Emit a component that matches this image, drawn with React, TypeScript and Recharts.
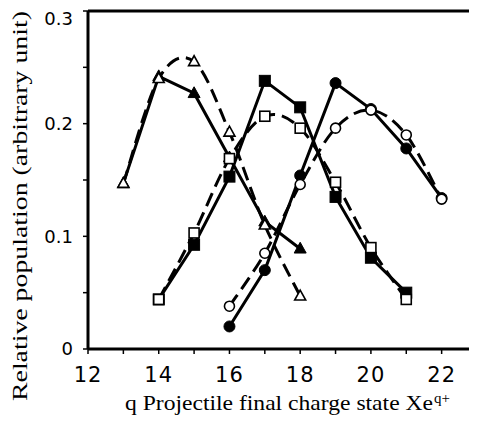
import React from "react";
import { LineChart, Line, XAxis, YAxis, ReferenceLine } from "recharts";

// Projectile final charge state q
const qValues = [13, 14, 15, 16, 17, 18, 19, 20, 21, 22];

// Relative population (arbitrary unit); null = no point
const filledTriangle = [0.147, 0.242, 0.227, 0.17, 0.113, 0.089, null, null, null, null];
const openTriangle = [0.147, 0.24, 0.255, 0.1925, 0.11, 0.047, null, null, null, null];
const filledSquare = [null, 0.044, 0.0925, 0.153, 0.238, 0.2145, 0.135, 0.081, 0.05, null];
const openSquare = [null, 0.044, 0.103, 0.169, 0.2066, 0.196, 0.148, 0.09, 0.044, null];
const filledCircle = [null, null, null, 0.02, 0.07, 0.154, 0.236, 0.213, 0.178, 0.134];
const openCircle = [null, null, null, 0.038, 0.085, 0.146, 0.196, 0.212, 0.19, 0.133];

const xTicks = [12, 13, 14, 15, 16, 17, 18, 19, 20, 21, 22, 23];
const xTickLabels = ["12", "", "14", "", "16", "", "18", "", "20", "", "22", ""];
const yTicks = [0, 0.05, 0.1, 0.15, 0.2, 0.25, 0.3];
const yTickLabels = ["0", "", "0.1", "", "0.2", "", "0.3"];

const data = qValues.map((q, i) => ({
  q,
  ft: filledTriangle[i],
  ot: openTriangle[i],
  fs: filledSquare[i],
  os: openSquare[i],
  fc: filledCircle[i],
  oc: openCircle[i],
}));

// smooth curve passing through points (Excel-like smoothing)
const smoothCurve: any = (context: any) => {
  let pts: number[][] = [];
  return {
    areaStart() {},
    areaEnd() {},
    lineStart() {
      pts = [];
    },
    point(x: number, y: number) {
      pts.push([+x, +y]);
    },
    lineEnd() {
      if (!pts.length) return;
      context.moveTo(pts[0][0], pts[0][1]);
      for (let i = 0; i < pts.length - 1; i++) {
        const p0 = pts[i - 1] || pts[i];
        const p1 = pts[i];
        const p2 = pts[i + 1];
        const p3 = pts[i + 2] || p2;
        context.bezierCurveTo(
          p1[0] + (p2[0] - p0[0]) / 6,
          p1[1] + (p2[1] - p0[1]) / 6,
          p2[0] - (p3[0] - p1[0]) / 6,
          p2[1] - (p3[1] - p1[1]) / 6,
          p2[0],
          p2[1]
        );
      }
    },
  };
};

const makeDot = (shape: string, filled: boolean) => (props: any) => {
  const { cx, cy, index, value } = props;
  if (value == null || cx == null || cy == null || isNaN(cy)) return <g key={index} />;
  const fill = filled ? "#000" : "#fff";
  const sw = filled ? 1 : 1.6;
  if (shape === "tri") {
    const s = filled ? 12 : 11;
    const h = s * 0.9;
    return (
      <polygon
        key={index}
        points={`${cx},${cy - h * 0.6} ${cx - s / 2},${cy + h * 0.4} ${cx + s / 2},${cy + h * 0.4}`}
        fill={fill}
        stroke="#000"
        strokeWidth={sw}
      />
    );
  }
  if (shape === "sq") {
    const s = filled ? 11 : 10;
    return (
      <rect key={index} x={cx - s / 2} y={cy - s / 2} width={s} height={s} fill={fill} stroke="#000" strokeWidth={sw} />
    );
  }
  return <circle key={index} cx={cx} cy={cy} r={filled ? 5.5 : 5} fill={fill} stroke="#000" strokeWidth={sw} />;
};

const XTick = (props: any) => {
  const { x, y, payload } = props;
  const idx = xTicks.indexOf(payload.value);
  const label = idx >= 0 ? xTickLabels[idx] : "";
  if (!label) return <g />;
  return (
    <text x={x} y={y} dy="0.71em" textAnchor="middle" fontFamily="DejaVu Sans, Verdana, sans-serif" fontSize={21} fill="#000" letterSpacing={1}>
      {label}
    </text>
  );
};

const YTick = (props: any) => {
  const { x, y, payload } = props;
  let label = "";
  let top = false;
  yTicks.forEach((t, i) => {
    if (Math.abs(t - payload.value) < 1e-9) {
      label = yTickLabels[i];
      top = i === yTicks.length - 1;
    }
  });
  if (!label) return <g />;
  return (
    <text x={x} y={y + (top ? 8 : 0)} dy="0.36em" textAnchor="end" fontFamily="DejaVu Sans, Verdana, sans-serif" fontSize={18} fill="#000">
      {label}
    </text>
  );
};

const XTitle = (props: any) => {
  const vb = props.viewBox || { x: 80, y: 341 };
  return (
    <g>
      <text
        x={vb.x + 37}
        y={vb.y + 61}
        fontFamily="Liberation Serif, Times New Roman, serif"
        fontSize={22}
        textLength={308}
        lengthAdjust="spacingAndGlyphs"
        fill="#000"
      >
        q Projectile final charge state Xe
      </text>
      <text x={vb.x + 346} y={vb.y + 54} fontFamily="Liberation Serif, Times New Roman, serif" fontSize={15} fill="#000">
        q+
      </text>
    </g>
  );
};

const YTitle = (props: any) => {
  const vb = props.viewBox || { x: 0, y: 3 };
  const cx = vb.x + 19;
  const cy = vb.y + 195;
  return (
    <text
      x={cx}
      y={cy}
      transform={`rotate(-90, ${cx}, ${cy})`}
      textAnchor="middle"
      fontFamily="Liberation Serif, Times New Roman, serif"
      fontSize={21}
      textLength={390}
      lengthAdjust="spacingAndGlyphs"
      fill="#000"
    >
      Relative population (arbitrary unit)
    </text>
  );
};

export default function App() {
  return (
    <LineChart width={469} height={415} data={data} margin={{ top: 3, right: 0, bottom: 0, left: 0 }}>
      <XAxis
        type="number"
        dataKey="q"
        domain={[12, 23]}
        ticks={xTicks}
        allowDataOverflow
        interval={0}
        height={74}
        tick={<XTick />}
        tickSize={5}
        tickMargin={13}
        axisLine={{ stroke: "#000", strokeWidth: 3 }}
        tickLine={{ stroke: "#000", strokeWidth: 1.5 }}
        label={{ content: (p: any) => <XTitle {...p} /> }}
      />
      <YAxis
        type="number"
        domain={[0, 0.3]}
        ticks={yTicks}
        interval={0}
        width={80}
        tick={<YTick />}
        tickSize={5}
        tickMargin={10}
        axisLine={{ stroke: "#000", strokeWidth: 3 }}
        tickLine={{ stroke: "#000", strokeWidth: 1.5 }}
        label={{ content: (p: any) => <YTitle {...p} /> }}
      />
      <ReferenceLine y={0.3} stroke="#000" strokeWidth={3} ifOverflow="extendDomain" />
      <Line dataKey="ft" type="linear" stroke="#000" strokeWidth={3} dot={makeDot("tri", true)} isAnimationActive={false} />
      <Line dataKey="fs" type="linear" stroke="#000" strokeWidth={3} dot={makeDot("sq", true)} isAnimationActive={false} />
      <Line dataKey="fc" type="linear" stroke="#000" strokeWidth={3} dot={makeDot("circ", true)} isAnimationActive={false} />
      <Line dataKey="ot" type={smoothCurve} stroke="#000" strokeWidth={3} strokeDasharray="14 7" dot={makeDot("tri", false)} isAnimationActive={false} />
      <Line dataKey="os" type={smoothCurve} stroke="#000" strokeWidth={3} strokeDasharray="14 7" dot={makeDot("sq", false)} isAnimationActive={false} />
      <Line dataKey="oc" type={smoothCurve} stroke="#000" strokeWidth={3} strokeDasharray="14 7" dot={makeDot("circ", false)} isAnimationActive={false} />
    </LineChart>
  );
}
